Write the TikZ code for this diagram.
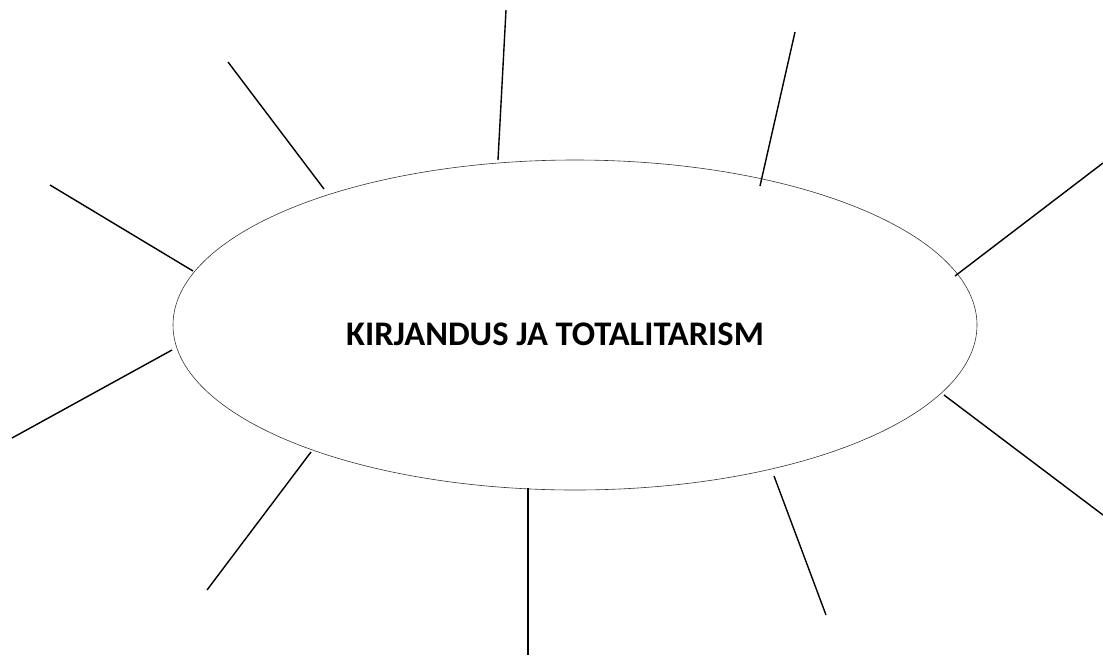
\documentclass[tikz,border=0pt]{standalone}
\usepackage{fontspec}
\setmainfont{Carlito}
\usetikzlibrary{shapes.geometric}
\begin{document}
\begin{tikzpicture}[x=1pt,y=-1pt,
  spoke/.style={line width=1.4pt,black},
  oval/.style={draw=black!80,line width=0.6pt,ellipse,minimum width=804pt,minimum height=330pt,inner sep=0pt}]
\useasboundingbox (0,0) rectangle (1103,662);
\node[oval] (e) at (575,325) {};
\node[font=\bfseries\fontsize{34.5}{40}\selectfont] (t) at (555,334) {KIRJANDUS JA TOTALITARISM};
\coordinate (a1) at (324,189); \coordinate (b1) at (228,62);
\coordinate (a2) at (193,271); \coordinate (b2) at (50,185);
\coordinate (a3) at (172,350); \coordinate (b3) at (12,438);
\coordinate (a4) at (311,452); \coordinate (b4) at (207,590);
\coordinate (a5) at (528,488); \coordinate (b5) at (528,655);
\coordinate (a6) at (774,476); \coordinate (b6) at (826,615);
\coordinate (a7) at (944,395); \coordinate (b7) at (1103,515);
\coordinate (a8) at (955,276); \coordinate (b8) at (1103,163);
\coordinate (a9) at (760,186); \coordinate (b9) at (795,32);
\coordinate (a10) at (498,160); \coordinate (b10) at (506,10);
\foreach \i in {1,...,10} {\draw[spoke] (a\i) -- (b\i);}
\end{tikzpicture}
\end{document}
